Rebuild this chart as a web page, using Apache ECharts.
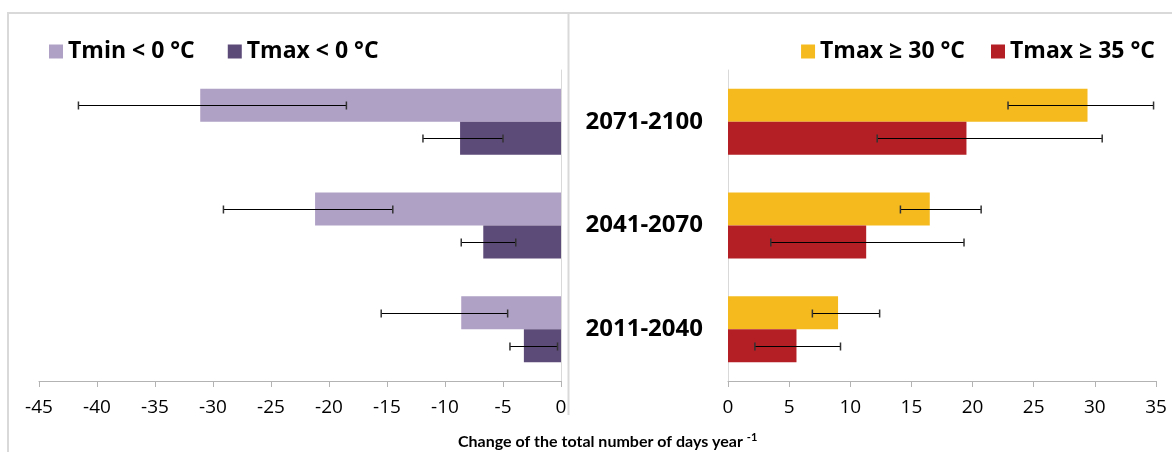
<!DOCTYPE html>
<html>
<head>
<meta charset="utf-8">
<script src="https://cdn.jsdelivr.net/npm/echarts@6/dist/echarts.min.js"></script>
<style>
  html, body { margin: 0; padding: 0; background: #fff; }
  #chart { width: 1172px; height: 452px; }
</style>
</head>
<body>
<div id="chart"></div>
<script>
// Periods (bottom to top on the category axis)
const periods = ['2011-2040', '2041-2070', '2071-2100'];

// Tick positions of the two value axes
const coldTicks = [-45, -40, -35, -30, -25, -20, -15, -10, -5, 0];
const hotTicks = [0, 5, 10, 15, 20, 25, 30, 35];

// Series names
const coldNames = ['Tmin < 0 °C', 'Tmax < 0 °C'];
const hotNames = ['Tmax ≥ 30 °C', 'Tmax ≥ 35 °C'];

// Change in days per year, ensemble mean and [low, high] spread
const tminBelow0 = [-8.6, -21.2, -31.1];
const tminBelow0Range = [[-15.5, -4.6], [-29.1, -14.5], [-41.6, -18.5]];
const tmaxBelow0 = [-3.2, -6.7, -8.7];
const tmaxBelow0Range = [[-4.4, -0.3], [-8.6, -3.9], [-11.9, -5.0]];
const tmaxAbove30 = [9.0, 16.5, 29.4];
const tmaxAbove30Range = [[6.9, 12.4], [14.1, 20.7], [22.9, 34.8]];
const tmaxAbove35 = [5.6, 11.3, 19.5];
const tmaxAbove35Range = [[2.2, 9.2], [3.5, 19.3], [12.2, 30.6]];

const FONT = 'Open Sans';
const TITLE_FONT = 'Lato';
const BAR_W = 33;

function valueAxis(gridIndex, ticks) {
  return {
    type: 'value', gridIndex,
    min: ticks[0], max: ticks[ticks.length - 1], interval: ticks[1] - ticks[0],
    splitLine: { show: false },
    axisLine: { show: true, lineStyle: { color: '#b3b3b3', width: 1 } },
    axisTick: { show: true, length: 6, lineStyle: { color: '#b3b3b3' } },
    axisLabel: { color: '#000', fontFamily: FONT, fontSize: 19, margin: 17 }
  };
}

function errorBars(axisIndex, ranges, shift) {
  return {
    type: 'custom', xAxisIndex: axisIndex, yAxisIndex: axisIndex, z: 5, silent: true,
    data: ranges.map((r, i) => [r[0], r[1], i]),
    encode: { x: [0, 1], y: 2 },
    renderItem(params, api) {
      const a = api.coord([api.value(0), api.value(2)]);
      const b = api.coord([api.value(1), api.value(2)]);
      const y = Math.round(a[1] + shift) + 0.5;
      const cap = 4;
      return {
        type: 'group',
        children: [
          { type: 'line', shape: { x1: a[0], y1: y, x2: b[0], y2: y }, style: { stroke: '#000', lineWidth: 1.2 } },
          { type: 'line', shape: { x1: a[0], y1: y - cap, x2: a[0], y2: y + cap }, style: { stroke: '#333', lineWidth: 1.5 } },
          { type: 'line', shape: { x1: b[0], y1: y - cap, x2: b[0], y2: y + cap }, style: { stroke: '#333', lineWidth: 1.5 } }
        ]
      };
    }
  };
}

function bars(name, axisIndex, values, color) {
  return {
    name, type: 'bar', xAxisIndex: axisIndex, yAxisIndex: axisIndex,
    data: values, barWidth: BAR_W, barGap: '0%',
    itemStyle: { color }, emphasis: { disabled: true }
  };
}

const legendText = { color: '#000', fontFamily: FONT, fontSize: 23, fontWeight: 'bold' };

const option = {
  animation: false,
  backgroundColor: '#fff',
  textStyle: { fontFamily: FONT },
  title: {
    text: '{a|Change of the total number of days year }{b|-1}',
    left: 453, top: 427,
    textStyle: {
      rich: {
        a: { fontFamily: TITLE_FONT, fontSize: 16, fontWeight: 'bold', color: '#000' },
        b: { fontFamily: TITLE_FONT, fontSize: 11, fontWeight: 'bold', color: '#000', verticalAlign: 'top', padding: [0, 0, 9, 0] }
      }
    }
  },
  legend: [
    {
      data: coldNames, left: 44, top: 35, icon: 'rect', itemWidth: 14, itemHeight: 14,
      itemGap: 33, textStyle: legendText, selectedMode: false
    },
    {
      data: hotNames, right: 12, top: 35, icon: 'rect', itemWidth: 14, itemHeight: 14,
      itemGap: 26, textStyle: legendText, selectedMode: false
    }
  ],
  grid: [
    { left: 39, width: 522, top: 70, height: 311, containLabel: false },
    { left: 728, width: 428, top: 70, height: 311, containLabel: false }
  ],
  xAxis: [valueAxis(0, coldTicks), valueAxis(1, hotTicks)],
  yAxis: [
    {
      type: 'category', gridIndex: 0, data: periods, position: 'right',
      axisLine: { show: true, lineStyle: { color: '#d9d9d9' } },
      axisTick: { show: false }, axisLabel: { show: false }
    },
    {
      type: 'category', gridIndex: 1, data: periods, position: 'left',
      axisLine: { show: true, lineStyle: { color: '#d9d9d9' } },
      axisTick: { show: false },
      axisLabel: { color: '#000', fontFamily: FONT, fontSize: 24, fontWeight: 'bold', margin: 25 }
    }
  ],
  graphic: [
    { type: 'rect', shape: { x: 8, y: 13, width: 1300, height: 600 }, style: { fill: 'none', stroke: '#d9d9d9', lineWidth: 2 }, silent: true },
    { type: 'line', shape: { x1: 568.5, y1: 13, x2: 568.5, y2: 415 }, style: { stroke: '#d9d9d9', lineWidth: 2 }, silent: true }
  ],
  series: [
    bars(coldNames[0], 0, tminBelow0, '#afa0c5'),
    bars(coldNames[1], 0, tmaxBelow0, '#5c4a78'),
    bars(hotNames[0], 1, tmaxAbove30, '#f5bb1e'),
    bars(hotNames[1], 1, tmaxAbove35, '#b31f25'),
    errorBars(0, tminBelow0Range, -BAR_W / 2),
    errorBars(0, tmaxBelow0Range, BAR_W / 2),
    errorBars(1, tmaxAbove30Range, -BAR_W / 2),
    errorBars(1, tmaxAbove35Range, BAR_W / 2)
  ]
};

const chart = echarts.init(document.getElementById('chart'), null, { renderer: 'canvas' });
chart.setOption(option);
</script>
</body>
</html>
